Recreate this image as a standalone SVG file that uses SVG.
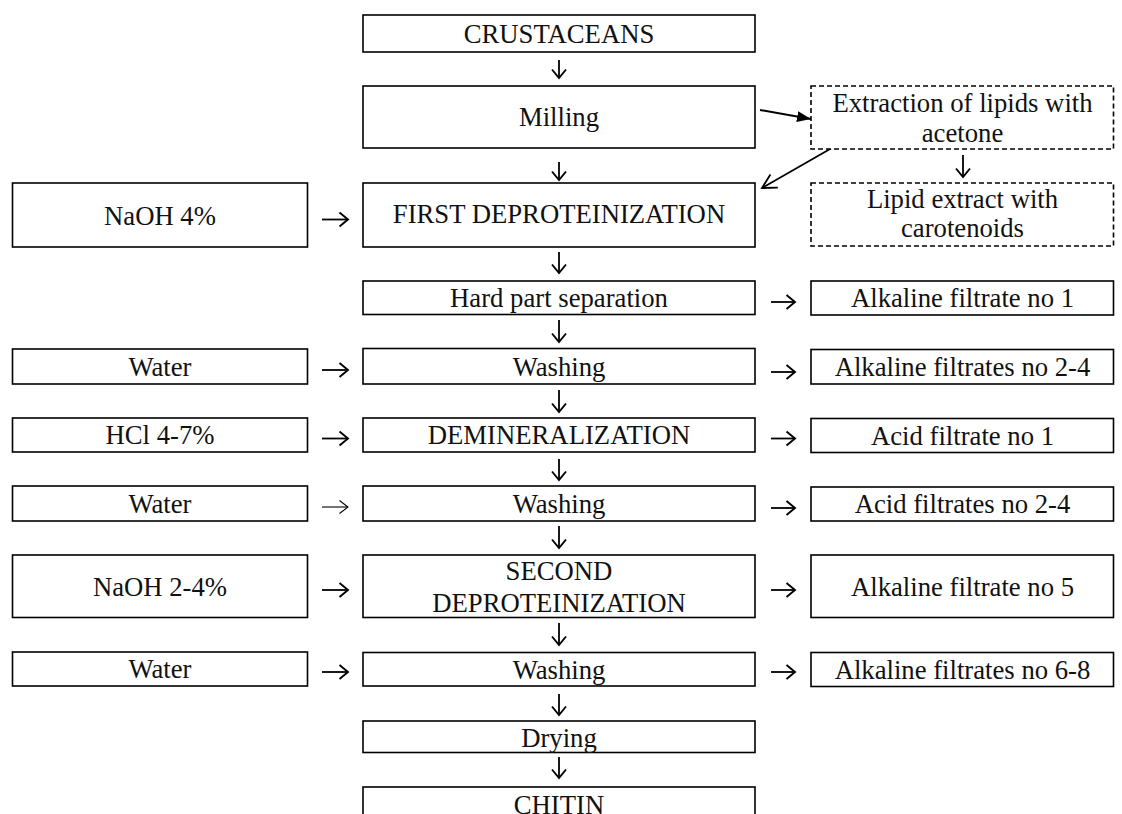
<svg xmlns="http://www.w3.org/2000/svg" width="1122" height="814" viewBox="0 0 1122 814">
<style>
  .box { fill: #fff; stroke: #000; stroke-width: 1.6; }
  .dash { fill: #fff; stroke: #000; stroke-width: 1.6; stroke-dasharray: 5 3; }
  .t { font-family: "Liberation Serif", "Times New Roman", serif; font-size: 26.7px; fill: #111; text-anchor: middle; }
  .c { fill: none; stroke: #000; stroke-width: 1.8; }
  .thin { stroke-width: 1.1; }
  .d { marker-end: url(#head); }
</style>
<defs>
  <marker id="head" markerUnits="userSpaceOnUse" markerWidth="14" markerHeight="18" refX="10" refY="9" orient="auto">
    <path d="M1.5,2 L10,9 L1.5,16" fill="none" stroke="#000" stroke-width="1.9"/>
  </marker>
  <marker id="headThin" markerUnits="userSpaceOnUse" markerWidth="14" markerHeight="18" refX="10" refY="9" orient="auto">
    <path d="M1.5,2.5 L10,9 L1.5,15.5" fill="none" stroke="#000" stroke-width="1.1"/>
  </marker>
  <marker id="headLg" markerUnits="userSpaceOnUse" markerWidth="18" markerHeight="18" refX="15" refY="9" orient="auto">
    <path d="M1,1.5 L15,9 L1,16.5" fill="none" stroke="#000" stroke-width="1.8"/>
  </marker>
  <marker id="headFill" markerUnits="userSpaceOnUse" markerWidth="16" markerHeight="14" refX="14" refY="7" orient="auto">
    <path d="M0,1.5 L14,7 L0,12.5 z" fill="#000"/>
  </marker>
</defs>
<rect width="1122" height="814" fill="#fff"/>

<g id="connectors">
  <!-- vertical main chain -->
  <path class="c d" d="M559,60 V78"/>
  <path class="c d" d="M559,162 V180"/>
  <path class="c d" d="M559,252 V273"/>
  <path class="c d" d="M559,320 V342"/>
  <path class="c d" d="M559,390 V412"/>
  <path class="c d" d="M559,459 V480"/>
  <path class="c d" d="M559,526 V548"/>
  <path class="c d" d="M559,623 V645"/>
  <path class="c d" d="M559,694 V715"/>
  <path class="c d" d="M559,757 V778"/>
  <path class="c d" d="M963,155 V177"/>
  <!-- left inputs -->
  <path class="c d" d="M322,219.5 H348"/>
  <path class="c d" d="M322,370 H348"/>
  <path class="c d" d="M322,438.5 H348"/>
  <path class="c thin" style="marker-end:url(#headThin)" d="M322,507 H348"/>
  <path class="c d" d="M322,590 H348"/>
  <path class="c d" d="M322,672 H348"/>
  <!-- right outputs -->
  <path class="c d" d="M771,302 H795"/>
  <path class="c d" d="M771,372 H795"/>
  <path class="c d" d="M771,438.5 H795"/>
  <path class="c d" d="M771,508 H795"/>
  <path class="c d" d="M771,590 H795"/>
  <path class="c d" d="M771,672 H795"/>
  <!-- lipid extraction loop -->
  <path class="c" style="stroke-width:2;marker-end:url(#headFill)" d="M760,110 L811,119"/>
  <path class="c" style="marker-end:url(#headLg)" d="M844,141 L762,188"/>
</g>

<g id="n-crustaceans"><rect class="box" x="363" y="15" width="392" height="37"/><text class="t" x="559" y="43">CRUSTACEANS</text></g>
<g id="n-milling"><rect class="box" x="363" y="86" width="392" height="62"/><text class="t" x="559" y="126">Milling</text></g>
<g id="n-first-deprot"><rect class="box" x="363" y="183" width="392" height="64"/><text class="t" x="559" y="223">FIRST DEPROTEINIZATION</text></g>
<g id="n-hard-part"><rect class="box" x="363" y="281" width="392" height="33.5"/><text class="t" x="559" y="306.5">Hard part separation</text></g>
<g id="n-washing1"><rect class="box" x="363" y="348.5" width="392" height="35.5"/><text class="t" x="559" y="375.5">Washing</text></g>
<g id="n-demin"><rect class="box" x="363" y="418" width="392" height="34"/><text class="t" x="559" y="444">DEMINERALIZATION</text></g>
<g id="n-washing2"><rect class="box" x="363" y="486" width="392" height="35"/><text class="t" x="559" y="512.5">Washing</text></g>
<g id="n-second-deprot"><rect class="box" x="363" y="555" width="392" height="62.5"/><text class="t" x="559" y="580">SECOND</text><text class="t" x="559" y="611.5">DEPROTEINIZATION</text></g>
<g id="n-washing3"><rect class="box" x="363" y="652.5" width="392" height="33.5"/><text class="t" x="559" y="678.5">Washing</text></g>
<g id="n-drying"><rect class="box" x="363" y="721" width="392" height="31.5"/><text class="t" x="559" y="746.5">Drying</text></g>
<g id="n-chitin"><rect class="box" x="363" y="787" width="392" height="36"/><text class="t" x="559" y="814">CHITIN</text></g>

<g id="n-naoh4"><rect class="box" x="12.5" y="183" width="295" height="64"/><text class="t" x="160" y="224.5">NaOH 4%</text></g>
<g id="n-water1"><rect class="box" x="12.5" y="349" width="295" height="35"/><text class="t" x="160" y="375.5">Water</text></g>
<g id="n-hcl"><rect class="box" x="12.5" y="418" width="295" height="34"/><text class="t" x="160" y="444">HCl 4-7%</text></g>
<g id="n-water2"><rect class="box" x="12.5" y="486" width="295" height="35"/><text class="t" x="160" y="512.5">Water</text></g>
<g id="n-naoh24"><rect class="box" x="12.5" y="555" width="295" height="62.5"/><text class="t" x="160" y="595.5">NaOH 2-4%</text></g>
<g id="n-water3"><rect class="box" x="12.5" y="652" width="295" height="34"/><text class="t" x="160" y="678">Water</text></g>

<g id="n-extraction"><rect class="dash" x="811" y="86" width="302.5" height="63"/><text class="t" x="962.5" y="111.5">Extraction of lipids with</text><text class="t" x="962.5" y="142">acetone</text></g>
<g id="n-lipid-extract"><rect class="dash" x="811" y="183" width="302.5" height="63"/><text class="t" x="962.5" y="208">Lipid extract with</text><text class="t" x="962.5" y="236.5">carotenoids</text></g>
<g id="n-alk1"><rect class="box" x="811" y="281" width="302.5" height="34"/><text class="t" x="962.5" y="307">Alkaline filtrate no 1</text></g>
<g id="n-alk2-4"><rect class="box" x="811" y="349.5" width="302.5" height="34.5"/><text class="t" x="962.5" y="375.5">Alkaline filtrates no 2-4</text></g>
<g id="n-acid1"><rect class="box" x="811" y="418.5" width="302.5" height="34"/><text class="t" x="962.5" y="444.5">Acid filtrate no 1</text></g>
<g id="n-acid2-4"><rect class="box" x="811" y="487" width="302.5" height="34"/><text class="t" x="962.5" y="513">Acid filtrates no 2-4</text></g>
<g id="n-alk5"><rect class="box" x="811" y="555" width="302.5" height="62.5"/><text class="t" x="962.5" y="595.5">Alkaline filtrate no 5</text></g>
<g id="n-alk6-8"><rect class="box" x="811" y="652.5" width="302.5" height="34"/><text class="t" x="962.5" y="678.5">Alkaline filtrates no 6-8</text></g>
</svg>
